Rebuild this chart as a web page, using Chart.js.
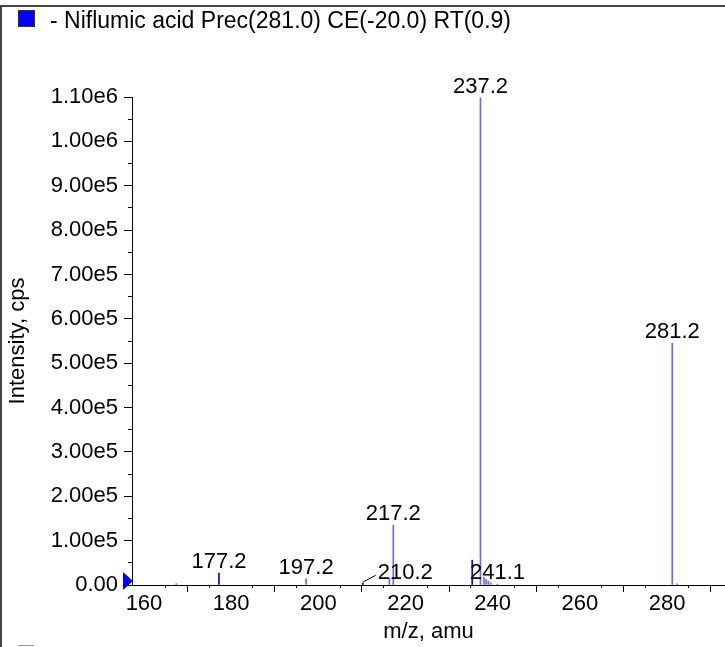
<!DOCTYPE html>
<html>
<head>
<meta charset="utf-8">
<script src="https://cdn.jsdelivr.net/npm/chart.js@4.4.0/dist/chart.umd.min.js"></script>
<style>
  html, body { margin: 0; padding: 0; background: #fff; }
  #wrap { position: relative; width: 725px; height: 647px; overflow: hidden; font-family: "Liberation Sans", Arial, sans-serif; }
  #frame { position: absolute; left: 0; top: 5px; width: 760px; height: 700px; border-left: 2px solid #444; border-top: 2px solid #444; }
  #legendBox { position: absolute; left: 18px; top: 10px; width: 15px; height: 15px; background: #0000ff; border: 1px solid #333; }
  #legendText { position: absolute; left: 50px; top: 9px; font-size: 23px; line-height: 22px; color: #000; white-space: nowrap; }
  #nextBox { position: absolute; left: 18px; top: 645px; width: 16px; height: 10px; border-top: 1px solid #999; }
  canvas { position: absolute; left: 0; top: 0; }
</style>
</head>
<body>
<div id="wrap">
  <div id="frame"></div>
  <canvas id="spectrum" width="725" height="647"></canvas>
  <div id="legendBox"></div>
  <div id="legendText">- Niflumic acid Prec(281.0) CE(-20.0) RT(0.9)</div>
  <div id="nextBox"></div>
</div>
<script>
// Peaks (m/z, intensity in cps)
const mzValues = [167.4, 177.2, 197.2, 210.2, 216.3, 217.2, 235.3, 237.2, 238.0, 238.5, 239.0, 239.6, 241.1, 281.2, 282.3];
const intensities = [3000, 27000, 14000, 4000, 16000, 135000, 56000, 1098000, 18000, 13000, 9000, 5000, 2000, 545000, 2500];

// Annotated peaks
const peakLabels = ['177.2', '197.2', '210.2', '217.2', '237.2', '241.1', '281.2'];

// Axis range
const xMin = 157.25;
const xMax = 293.3;
const yMax = 1100000;

const legendText = '- Niflumic acid Prec(281.0) CE(-20.0) RT(0.9)';
const darkPeaks = [177.2, 210.2, 235.3];
const FONT = '"Liberation Sans", Arial, sans-serif';

const fmtY = v => (v === 0 ? '0.00' : Number(v).toExponential(2).replace('+', ''));

// Peak labels + origin marker
const annotate = {
  id: 'annotate',
  afterDatasetsDraw(chart) {
    const c = chart.ctx;
    const xs = chart.scales.x;
    const ys = chart.scales.y;
    c.save();
    c.font = '22px ' + FONT;
    c.fillStyle = '#000';
    c.textBaseline = 'alphabetic';
    peakLabels.forEach(lbl => {
      const mz = parseFloat(lbl);
      const i = mzValues.indexOf(mz);
      const px = xs.getPixelForValue(mz);
      const py = ys.getPixelForValue(intensities[i]);
      if (lbl === '210.2') {
        // label pushed right with a leader line
        c.strokeStyle = '#000';
        c.lineWidth = 1;
        c.beginPath();
        c.moveTo(px, py - 1);
        c.lineTo(px + 13, py - 8);
        c.stroke();
        c.textAlign = 'left';
        c.fillText(lbl, px + 15, py - 4);
      } else {
        c.textAlign = 'center';
        c.fillText(lbl, px, py - 5);
      }
    });
    // blue marker at y = 0
    const y0 = ys.getPixelForValue(0) - 4;
    const x0 = chart.chartArea.left + 1;
    c.fillStyle = '#0000ff';
    c.beginPath();
    c.moveTo(x0, y0);
    c.lineTo(x0 - 10, y0 - 9);
    c.lineTo(x0 - 10, y0 + 9);
    c.closePath();
    c.fill();
    c.restore();
  }
};

const ctx = document.getElementById('spectrum').getContext('2d');
const chart = new Chart(ctx, {
  type: 'bar',
  data: {
    datasets: [{
      label: legendText,
      data: mzValues.map((m, i) => ({ x: m, y: intensities[i] })),
      backgroundColor: c => (darkPeaks.includes(mzValues[c.dataIndex]) ? 'rgb(0,0,235)' : 'rgb(105,105,255)'),
      borderWidth: 0,
      barThickness: 1
    }]
  },
  options: {
    responsive: false,
    animation: false,
    devicePixelRatio: 1,
    layout: { padding: { top: 97, left: 0, right: 0, bottom: 0 } },
    plugins: { legend: { display: false }, tooltip: { enabled: false } },
    scales: {
      x: {
        type: 'linear',
        position: 'bottom',
        weight: 1,
        min: xMin,
        max: xMax,
        offset: false,
        border: { color: '#000', width: 1 },
        grid: { drawOnChartArea: false, tickLength: 7, color: '#000' },
        ticks: {
          stepSize: 20,
          includeBounds: false,
          maxRotation: 0,
          padding: 1,
          color: '#000',
          font: { family: FONT, size: 22, lineHeight: 1 }
        },
        title: {
          display: true,
          text: 'm/z, amu',
          color: '#000',
          font: { family: FONT, size: 22, lineHeight: 1.2 },
          padding: { top: 0, bottom: 2 }
        },
        afterFit: s => { s.height = 62; }
      },
      xMinor: {
        type: 'linear',
        position: 'bottom',
        weight: 0,
        min: xMin,
        max: xMax,
        offset: false,
        border: { display: false },
        grid: { drawOnChartArea: false, tickLength: 3, color: '#000' },
        ticks: { display: false, stepSize: 10, includeBounds: false },
        afterFit: s => { s.height = 0; }
      },
      y: {
        position: 'left',
        weight: 1,
        min: 0,
        max: yMax,
        border: { color: '#000', width: 1 },
        grid: { drawOnChartArea: false, tickLength: 8, color: '#000' },
        ticks: {
          stepSize: 100000,
          padding: 6,
          color: '#000',
          font: { family: FONT, size: 22 },
          callback: v => fmtY(v)
        },
        title: {
          display: true,
          text: 'Intensity, cps',
          color: '#000',
          font: { family: FONT, size: 22, lineHeight: 1.2 },
          padding: { top: 5, bottom: 0 }
        },
        afterFit: s => { s.width = 132; }
      },
      yMinor: {
        position: 'left',
        weight: 0,
        min: 0,
        max: yMax,
        border: { display: false },
        grid: { drawOnChartArea: false, tickLength: 4, color: '#000' },
        ticks: { display: false, stepSize: 50000 },
        afterFit: s => { s.width = 0; }
      }
    }
  },
  plugins: [annotate]
});
</script>
</body>
</html>
